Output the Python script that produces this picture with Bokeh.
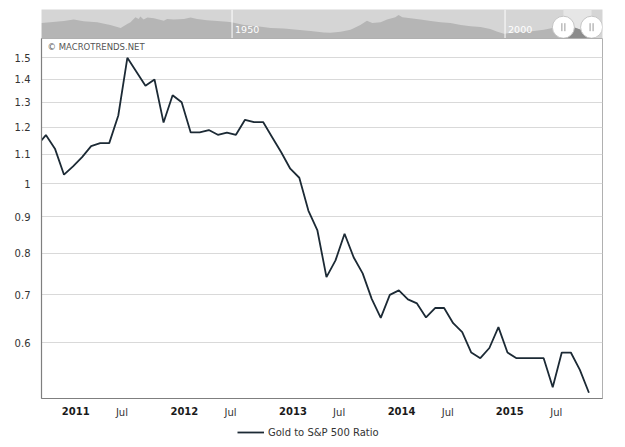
import numpy as np
from bokeh.plotting import figure
from bokeh.layouts import column
from bokeh.models import (FixedTicker, LinearAxis, Legend, LegendItem, Label,
                          Range1d, Span)
from bokeh.embed import file_html
from bokeh.resources import INLINE
from bokeh.core.properties import value

FONT = "DejaVu Sans"
LINE_COLOR = "#1c2a35"

# ---------------- data ----------------
months = ["2010-08", "2010-09", "2010-10", "2010-11", "2010-12",
          "2011-01", "2011-02", "2011-03", "2011-04", "2011-05", "2011-06",
          "2011-07", "2011-08", "2011-09", "2011-10", "2011-11", "2011-12",
          "2012-01", "2012-02", "2012-03", "2012-04", "2012-05", "2012-06",
          "2012-07", "2012-08", "2012-09", "2012-10", "2012-11", "2012-12",
          "2013-01", "2013-02", "2013-03", "2013-04", "2013-05", "2013-06",
          "2013-07", "2013-08", "2013-09", "2013-10", "2013-11", "2013-12",
          "2014-01", "2014-02", "2014-03", "2014-04", "2014-05", "2014-06",
          "2014-07", "2014-08", "2014-09", "2014-10", "2014-11", "2014-12",
          "2015-01", "2015-02", "2015-03", "2015-04", "2015-05", "2015-06",
          "2015-07", "2015-08", "2015-09"]
ratio = [1.13, 1.17, 1.12, 1.03, 1.058, 1.09, 1.129, 1.14, 1.14, 1.246,
         1.50, 1.434, 1.371, 1.399, 1.218, 1.33, 1.30, 1.18, 1.18, 1.189,
         1.171, 1.179, 1.171, 1.229, 1.22, 1.22, 1.162, 1.107, 1.05, 1.02,
         0.918, 0.861, 0.741, 0.782, 0.852, 0.79, 0.75, 0.691, 0.650, 0.70,
         0.71, 0.690, 0.681, 0.651, 0.671, 0.671, 0.639, 0.621, 0.5815, 0.571,
         0.590, 0.631, 0.5815, 0.571, 0.571, 0.571, 0.571, 0.520, 0.5815,
         0.5815, 0.550, 0.511]

# tick positions (month index, Sep 2010 = 0) and labels
year_tick_pos = [3.3, 15.3, 27.3, 39.3, 51.25]
year_tick_labels = ["2011", "2012", "2013", "2014", "2015"]
jul_tick_pos = [8.4, 20.4, 32.4, 44.4, 56.4]
jul_tick_labels = ["Jul", "Jul", "Jul", "Jul", "Jul"]
y_tick_vals = [0.6, 0.7, 0.8, 0.9, 1.0, 1.1, 1.2, 1.3, 1.4, 1.5]
y_tick_labels = ["0.6", "0.7", "0.8", "0.9", "1", "1.1", "1.2", "1.3", "1.4", "1.5"]

# navigator (long-term history, relative level)
nav_years = [1915.1, 1916.7, 1919.2, 1921.0, 1922.8, 1925.3, 1927.7, 1929.6,
             1930.8, 1931.4, 1932.3, 1932.9, 1933.2, 1933.8, 1934.5, 1935.7,
             1937.5, 1938.1, 1939.3, 1941.2, 1942.4, 1943.6, 1945.4, 1947.3,
             1949.1, 1949.9, 1952.2, 1954.6, 1957.1, 1959.5, 1961.9, 1964.4,
             1966.8, 1968.0, 1969.9, 1971.7, 1973.5, 1974.7, 1975.7, 1977.2,
             1978.4, 1979.9, 1980.5, 1981.2, 1982.7, 1984.5, 1986.4, 1988.2,
             1990.0, 1991.9, 1993.7, 1995.5, 1997.3, 1998.6, 1999.8, 2001.6,
             2003.5, 2005.3, 2007.1, 2008.9, 2010.8, 2012.6, 2014.4, 2015.9]
nav_level = [46, 48, 52, 56, 51, 48, 40, 31,
             43, 48, 63, 58, 65, 56, 62, 60,
             53, 58, 56, 58, 62, 58, 54, 52,
             50, 48, 40, 36, 31, 30, 26, 22,
             18, 17, 20, 26, 40, 53, 46, 48,
             56, 63, 70, 63, 60, 56, 52, 48,
             46, 40, 36, 34, 28, 20, 14, 18,
             20, 22, 26, 32, 38, 33, 23, 16]
nav_grid_years = [1950, 2000]
nav_grid_labels = ["1950", "2000"]
series_name = "Gold to S&P 500 Ratio"

# ---------------- main chart ----------------
x = [i - 1 for i in range(len(months))]
x_start, x_end = -0.486, 61.5
y_start, y_end = 0.5016, 1.596

p = figure(width=625, height=384, y_axis_type="log",
           x_range=Range1d(x_start, x_end), y_range=Range1d(y_start, y_end),
           output_backend="svg", toolbar_location=None,
           min_border_left=40, min_border_right=23, min_border_top=0,
           min_border_bottom=24, background_fill_color="white",
           border_fill_color="white", outline_line_color="#b0b0b0")

r = p.line(x, ratio, line_color=LINE_COLOR, line_width=1.8)

p.xgrid.visible = False
p.ygrid.ticker = FixedTicker(ticks=y_tick_vals)
p.ygrid.grid_line_color = "#d9d9d9"
p.ygrid.grid_line_width = 1

ya = p.yaxis[0]
ya.ticker = FixedTicker(ticks=y_tick_vals)
ya.major_label_overrides = dict(zip(y_tick_vals, y_tick_labels))
ya.major_tick_line_color = None
ya.minor_tick_line_color = None
ya.axis_line_color = "#7f7f7f"
ya.axis_line_width = 1.2
ya.major_label_standoff = 5
ya.major_label_text_font = FONT
ya.major_label_text_font_size = "10px"
ya.major_label_text_color = "#333333"

xa = p.xaxis[0]
xa.ticker = FixedTicker(ticks=year_tick_pos)
xa.major_label_overrides = dict(zip(year_tick_pos, year_tick_labels))
xa.major_tick_line_color = None
xa.minor_tick_line_color = None
xa.axis_line_color = "#7f7f7f"
xa.axis_line_width = 1.2
xa.major_label_standoff = 2
xa.major_label_text_font = FONT
xa.major_label_text_font_size = "10px"
xa.major_label_text_font_style = "bold"
xa.major_label_text_color = "#1a1a1a"

# second axis with the "Jul" labels, pulled up onto the same row as the years
jul_axis = LinearAxis(ticker=FixedTicker(ticks=jul_tick_pos),
                      major_label_overrides=dict(zip(jul_tick_pos, jul_tick_labels)),
                      axis_line_color=None, major_tick_line_color=None,
                      minor_tick_line_color=None, major_label_standoff=-17,
                      major_label_text_font=FONT, major_label_text_font_size="10px",
                      major_label_text_color="#333333")
p.add_layout(jul_axis, "below")

p.add_layout(Label(x=6, y=352, x_units="screen", y_units="screen",
                   text="© MACROTRENDS.NET", text_font=FONT,
                   text_font_size="8.5px", text_color="#555555",
                   text_baseline="middle"))

# ---------------- legend strip ----------------
leg = figure(width=625, height=25, x_range=Range1d(0, 1), y_range=Range1d(0, 1),
             output_backend="svg", toolbar_location=None,
             x_axis_location=None, y_axis_location=None,
             min_border_left=0, min_border_right=0, min_border_top=0,
             min_border_bottom=0, outline_line_color=None,
             background_fill_color="white", border_fill_color="white")
leg.grid.visible = False
# legend key line (kept outside the visible strip range)
lr = leg.line(x=[2, 3], y=[2, 2], line_color=LINE_COLOR, line_width=1.8)
legend = Legend(items=[LegendItem(label=series_name, renderers=[lr])],
                location=(196, 9), glyph_width=27, glyph_height=12,
                label_standoff=4, padding=0, margin=0, spacing=0,
                border_line_alpha=0, background_fill_alpha=0,
                label_text_font=FONT, label_text_font_size="10px",
                label_text_color="#333333")
leg.add_layout(legend)

# ---------------- navigator ----------------
def month_to_year(m):
    return 2011 + (m - year_tick_pos[0]) / 12.0

sel0, sel1 = month_to_year(x_start), month_to_year(x_end)
nav_x0, nav_x1 = 1915.1, 2017.85
nav_top = 86

nav = figure(width=625, height=38, x_range=Range1d(nav_x0, nav_x1),
             y_range=Range1d(0, nav_top), output_backend="svg",
             toolbar_location=None, x_axis_location=None, y_axis_location=None,
             min_border_left=41, min_border_right=23, min_border_top=9,
             min_border_bottom=0, background_fill_color="#d5d5d5",
             border_fill_color="white", outline_line_color=None)
nav.grid.visible = False

nav.quad(left=[sel0], right=[sel1], bottom=[0], top=[nav_top],
         fill_color="#e6e6e6", line_color=None)
nav.varea(x=nav_years, y1=0, y2=nav_level, fill_color="#b5b5b5")

ny = np.array(nav_years)
nl = np.array(nav_level, dtype=float)
inside = (ny > sel0) & (ny < sel1)
sx = np.concatenate([[sel0], ny[inside], [sel1]])
sl = np.concatenate([[np.interp(sel0, ny, nl)], nl[inside], [np.interp(sel1, ny, nl)]])
nav.varea(x=sx, y1=0, y2=sl, fill_color="#8c8c8c")

for gy in nav_grid_years:
    nav.add_layout(Span(location=gy, dimension="height", line_color="white",
                        line_width=1))
nav.text(x=nav_grid_years, y=[nav_top * 0.3] * len(nav_grid_years),
         text=nav_grid_labels, x_offset=3, text_baseline="middle",
         text_color="white", text_font=value(FONT), text_font_size="9.5px")

px_yr = (nav_x1 - nav_x0) / 561.0
hy = nav_top * 0.39
nav.scatter(x=[sel0, sel1], y=[hy, hy], size=22, fill_color="white",
            line_color="#c4c4c4", line_width=1)
gx = [sel0 - 1.5 * px_yr, sel0 + 1.5 * px_yr, sel1 - 1.5 * px_yr, sel1 + 1.5 * px_yr]
gh = nav_top * 4 / 29.0
nav.segment(x0=gx, y0=[hy - gh] * 4, x1=gx, y1=[hy + gh] * 4,
            line_color="#9a9a9a", line_width=1)

layout = column(nav, p, leg, spacing=0)
open("out.html", "w").write(file_html(layout, INLINE))
